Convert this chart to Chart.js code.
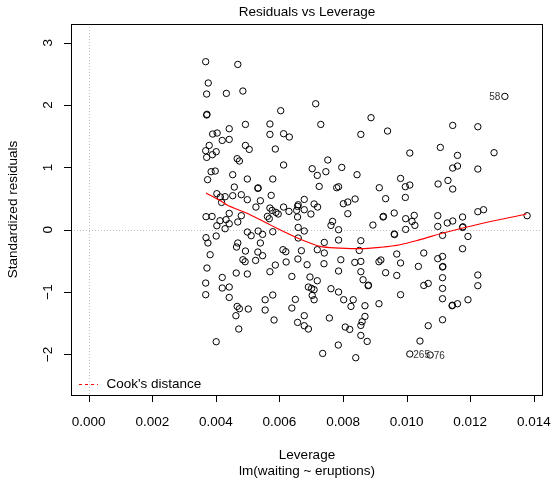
<!DOCTYPE html>
<html>
<head>
<meta charset="utf-8">
<script src="https://cdn.jsdelivr.net/npm/chart.js@4.4.1/dist/chart.umd.min.js"></script>
<style>
  html, body { margin: 0; padding: 0; background: #fff; }
</style>
</head>
<body>
<canvas id="lev" width="553" height="479"></canvas>
<script>
// leverage (hat values) and standardized residuals
const leverage = [
  0.00368, 0.00469, 0.00376, 0.00371, 0.00433, 0.00485, 0.00371, 0.00372, 0.00604, 0.00493,
  0.00570, 0.00442, 0.00390, 0.00404, 0.00570, 0.00613, 0.00631, 0.00420, 0.00442, 0.00379,
  0.00368, 0.00389, 0.00401, 0.00371, 0.00493, 0.00505, 0.00587, 0.00467, 0.00474, 0.00613,
  0.00385, 0.00398, 0.00453, 0.00374, 0.00499, 0.00579, 0.00458, 0.00532, 0.00533, 0.00403,
  0.00414, 0.00429, 0.00453, 0.00480, 0.00499, 0.00540, 0.00574, 0.00678, 0.00659, 0.00418,
  0.00526, 0.00570, 0.00577, 0.00589, 0.00596, 0.00613, 0.00630, 0.00657, 0.00654, 0.00678,
  0.00369, 0.00388, 0.00442, 0.00480, 0.00413, 0.00432, 0.00442, 0.00403, 0.00429, 0.00469,
  0.00562, 0.00568, 0.00657, 0.00659, 0.00678, 0.00499, 0.00511, 0.00533, 0.00547, 0.00579,
  0.00369, 0.00375, 0.00401, 0.00469, 0.00465, 0.00540, 0.00659, 0.00493, 0.00532, 0.00547,
  0.00611, 0.00620, 0.00669, 0.00382, 0.00485, 0.00492, 0.00525, 0.00621, 0.00658, 0.00687,
  0.00372, 0.00464, 0.00499, 0.00570, 0.00587, 0.00639, 0.00696, 0.00420, 0.00368, 0.00420,
  0.00442, 0.00691, 0.00368, 0.00442, 0.00579, 0.00555, 0.00650, 0.00467, 0.00474, 0.00463,
  0.00502, 0.00555, 0.00639, 0.00678, 0.00583, 0.00657, 0.00678, 0.00691, 0.00472, 0.00401,
  0.00714, 0.00730, 0.00888, 0.00856, 0.00940, 0.01010, 0.00752, 0.00703, 0.00719, 0.00746,
  0.00796, 0.00844, 0.00981, 0.00996, 0.01010, 0.00725, 0.00780, 0.00786, 0.00914, 0.00709,
  0.00801, 0.00815, 0.00838, 0.00934, 0.00996, 0.00720, 0.00699, 0.00815, 0.00926, 0.00927,
  0.00961, 0.00997, 0.01024, 0.01017, 0.01026, 0.00997, 0.00961, 0.00962, 0.00767, 0.00762,
  0.00786, 0.00894, 0.00786, 0.00856, 0.00741, 0.00719, 0.00741, 0.00851, 0.00969, 0.00793,
  0.00837, 0.00856, 0.00913, 0.00919, 0.00981, 0.00740, 0.01037, 0.00786, 0.00856, 0.00934,
  0.00969, 0.00719, 0.00863, 0.00879, 0.00880, 0.00701, 0.00709, 0.00762, 0.00786, 0.00703,
  0.00709, 0.00981, 0.00802, 0.00832, 0.00825, 0.00869, 0.00913, 0.00757, 0.00869, 0.00860,
  0.00856, 0.00807, 0.00821, 0.00856, 0.00876, 0.00785, 0.00736, 0.00840, 0.01042, 0.01145,
  0.01224, 0.01106, 0.01160, 0.01275, 0.01145, 0.01160, 0.01224, 0.01130, 0.01099, 0.01145,
  0.01098, 0.01098, 0.01128, 0.01145, 0.01176, 0.01176, 0.01177, 0.01224, 0.01242, 0.01379,
  0.01113, 0.01193, 0.01176, 0.01054, 0.01098, 0.01113, 0.01113, 0.01114, 0.01224, 0.01224,
  0.01113, 0.01054, 0.01068, 0.01113, 0.01113, 0.01193, 0.01143, 0.01144, 0.01160, 0.01113,
  0.01068
];
const stdResid = [
  2.697, 2.653, 2.355, 2.178, 2.188, 2.226, 1.841, 1.852, 1.910, 1.690,
  1.697, 1.621, 1.536, 1.552, 1.530, 1.541, 1.488, 1.433, 1.449, 1.353,
  1.268, 1.204, 1.252, 1.161, 1.353, 1.289, 1.295, 1.140, 1.103, 1.039,
  0.931, 0.942, 0.883, 0.803, 0.814, 0.814, 0.685, 0.663, 0.672, 0.578,
  0.525, 0.530, 0.546, 0.562, 0.482, 0.465, 0.551, 0.486, 0.401, 0.438,
  0.364, 0.348, 0.310, 0.278, 0.252, 0.364, 0.294, 0.374, 0.310, 0.321,
  0.209, 0.213, 0.262, 0.225, 0.144, 0.161, 0.096, 0.064, 0.016, 0.124,
  0.213, 0.177, 0.204, 0.037, -0.021, -0.037, -0.096, -0.021, -0.075, -0.032,
  -0.128, -0.213, -0.101, -0.213, -0.278, -0.213, -0.133, -0.342, -0.358, -0.417,
  -0.321, -0.353, -0.337, -0.401, -0.482, -0.514, -0.493, -0.518, -0.470, -0.562,
  -0.615, -0.695, -0.711, -0.674, -0.567, -0.750, -0.759, -0.766, -0.856, -0.936,
  -0.920, -0.920, -1.043, -1.087, -1.048, -1.124, -1.119, -1.231, -1.268, -1.380,
  -1.273, -1.289, -1.257, -1.380, -1.449, -1.488, -1.541, -1.594, -1.594, -1.798,
  2.022, 1.690, 1.798, 1.530, 1.584, 1.231, 1.119, 0.979, 0.872, 0.931,
  1.000, 0.883, 0.823, 0.690, 0.717, 0.695, 0.674, 0.690, 0.674, 0.413,
  0.417, 0.445, 0.493, 0.498, 0.518, 0.364, 0.252, 0.257, 0.204, 0.214,
  0.268, 0.177, 0.230, 0.133, 0.069, 0.005, -0.069, -0.077, 0.133, 0.069,
  0.000, 0.075, -0.165, -0.177, -0.204, -0.321, -0.374, -0.332, -0.390, -0.482,
  -0.525, -0.509, -0.514, -0.486, -0.534, -0.546, -0.589, -0.663, -0.674, -0.690,
  -0.734, -0.819, -0.803, -0.899, -0.890, -0.942, -0.963, -0.947, -1.000, -1.055,
  -1.124, -1.043, -1.124, -1.124, -1.231, -1.220, -1.188, -1.417, -1.392, -1.477,
  -1.536, -1.562, -1.600, -1.697, -1.793, -1.851, -1.986, -2.055, -1.787, 1.674,
  1.653, 1.321, 1.193, 1.236, 0.990, 1.022, 0.974, 0.791, 0.734, 0.653,
  0.225, 0.053, 0.108, 0.140, 0.204, 0.037, 0.047, 0.289, 0.321, 0.225,
  -0.091, -0.108, -0.305, -0.374, -0.465, -0.429, -0.599, -0.590, -0.727, -0.899,
  -0.770, -0.894, -0.862, -0.942, -1.108, -1.124, -1.220, -1.212, -1.188, -1.445,
  -1.541
];

// the three cases with the largest Cook's distance
const idLev = [0.01309, 0.01010, 0.01074];
const idRes = [2.140, -1.995, -2.011];
const idNames = ['58', '265', '76'];

// loess smoother through the residuals
const smoothLev = [0.00369, 0.00418, 0.00434, 0.00500, 0.00570, 0.00664, 0.00696, 0.00727,
                   0.00790, 0.00853, 0.00920, 0.00979, 0.01042, 0.01115, 0.01220, 0.01377];
const smoothRes = [0.589, 0.454, 0.400, 0.260, 0.080, -0.149, -0.213, -0.268,
                   -0.294, -0.305, -0.281, -0.241, -0.160, -0.053, 0.080, 0.252];

const xTicks = [0, 0.002, 0.004, 0.006, 0.008, 0.010, 0.012, 0.014];
const xTickLabels = ['0.000', '0.002', '0.004', '0.006', '0.008', '0.010', '0.012', '0.014'];
const yTicks = [-2, -1, 0, 1, 2, 3];
const yTickLabels = ['\u22122', '\u22121', '0', '1', '2', '3'];

const FONT = '"Liberation Sans", Arial, Helvetica, sans-serif';

const points = leverage.map((h, i) => ({ x: h, y: stdResid[i] }))
  .concat(idLev.map((h, i) => ({ x: h, y: idRes[i] })));
const smooth = smoothLev.map((h, i) => ({ x: h, y: smoothRes[i] }));

// R-style frame, axes, titles and legend
const rFrame = {
  id: 'rFrame',
  beforeDatasetsDraw(chart) {
    const { ctx, chartArea: a, scales: { x, y } } = chart;
    ctx.save();
    ctx.strokeStyle = '#bebebe';
    ctx.lineWidth = 1;
    ctx.setLineDash([1, 2]);
    const x0 = Math.round(x.getPixelForValue(0)) + 0.5;
    const y0 = Math.round(y.getPixelForValue(0)) + 0.5;
    ctx.beginPath();
    ctx.moveTo(x0, a.top); ctx.lineTo(x0, a.bottom);
    ctx.moveTo(a.left, y0); ctx.lineTo(a.right, y0);
    ctx.stroke();
    ctx.restore();
  },
  afterDraw(chart) {
    const { ctx, chartArea: a, scales: { x, y } } = chart;
    ctx.save();
    ctx.strokeStyle = '#000';
    ctx.fillStyle = '#000';
    ctx.lineWidth = 1;
    ctx.strokeRect(a.left + 0.5, a.top + 0.5, a.right - a.left - 1, a.bottom - a.top);

    // x axis
    ctx.font = '13.5px ' + FONT;
    ctx.textAlign = 'center';
    ctx.textBaseline = 'middle';
    ctx.beginPath();
    xTicks.forEach(v => {
      const px = Math.round(x.getPixelForValue(v)) + 0.5;
      ctx.moveTo(px, a.bottom); ctx.lineTo(px, a.bottom + 7);
    });
    ctx.stroke();
    xTicks.forEach((v, i) => ctx.fillText(xTickLabels[i], x.getPixelForValue(v), 422));

    // y axis, labels turned like R's las = 0
    ctx.beginPath();
    yTicks.forEach(v => {
      const py = Math.round(y.getPixelForValue(v)) + 0.5;
      ctx.moveTo(a.left, py); ctx.lineTo(a.left - 7, py);
    });
    ctx.stroke();
    yTicks.forEach((v, i) => {
      ctx.save();
      ctx.translate(48.5, y.getPixelForValue(v));
      ctx.rotate(-Math.PI / 2);
      ctx.fillText(yTickLabels[i], 0, 0);
      ctx.restore();
    });

    // titles
    const cx = (a.left + a.right) / 2;
    ctx.fillText('Residuals vs Leverage', cx, 12);
    ctx.fillText('Leverage', cx, 455);
    ctx.fillText('lm(waiting ~ eruptions)', cx, 471.5);
    ctx.save();
    ctx.translate(13.5, (a.top + a.bottom) / 2);
    ctx.rotate(-Math.PI / 2);
    ctx.fillText('Standardized residuals', 0, 0);
    ctx.restore();

    // legend
    ctx.strokeStyle = '#ff0000';
    ctx.setLineDash([3, 3]);
    ctx.beginPath();
    ctx.moveTo(a.left + 8, 384.5); ctx.lineTo(a.left + 27, 384.5);
    ctx.stroke();
    ctx.setLineDash([]);
    ctx.textAlign = 'left';
    ctx.fillText("Cook's distance", a.left + 35.5, 384.5);

    // case labels
    ctx.font = '10px ' + FONT;
    ctx.fillStyle = '#333';
    idNames.forEach((name, i) => {
      const px = x.getPixelForValue(idLev[i]);
      const py = y.getPixelForValue(idRes[i]) + 1;
      if (i === 0) {
        ctx.textAlign = 'right';
        ctx.fillText(name, px - 4.5, py);
      } else {
        ctx.textAlign = 'left';
        ctx.fillText(name, px + 3.5, py);
      }
    });
    ctx.restore();
  }
};

new Chart(document.getElementById('lev'), {
  type: 'scatter',
  data: {
    datasets: [{
      data: points,
      pointStyle: 'circle',
      pointRadius: 3.2,
      pointBorderWidth: 1,
      pointBorderColor: '#000',
      pointBackgroundColor: 'rgba(0,0,0,0)',
      showLine: false,
      order: 2
    }, {
      type: 'line',
      data: smooth,
      borderColor: '#ff0000',
      borderWidth: 1.2,
      pointRadius: 0,
      fill: false,
      cubicInterpolationMode: 'monotone',
      order: 1
    }]
  },
  options: {
    responsive: false,
    animation: false,
    devicePixelRatio: 1,
    layout: { padding: { left: 71, right: 10, top: 24, bottom: 84 } },
    scales: {
      x: { type: 'linear', min: -0.000557, max: 0.01429, display: false },
      y: { type: 'linear', min: -2.653, max: 3.302, display: false }
    },
    plugins: {
      legend: { display: false },
      tooltip: { enabled: false }
    }
  },
  plugins: [rFrame]
});
</script>
</body>
</html>
